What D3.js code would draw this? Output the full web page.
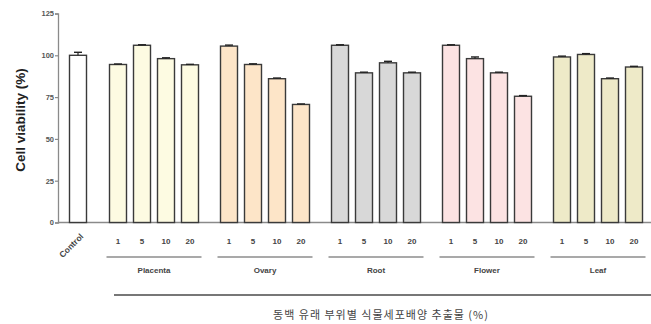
<!DOCTYPE html>
<html>
<head>
<meta charset="utf-8">
<script src="https://cdn.jsdelivr.net/npm/d3@7"></script>
<style>
  html, body { margin: 0; padding: 0; background: #fff; }
  svg { display: block; }
</style>
</head>
<body>
<svg id="chart" width="651" height="324"></svg>
<script>
// Cell viability data: control plus four concentrations for each plant part
const doses = ["1", "5", "10", "20"];
const parts = ["Placenta", "Ovary", "Root", "Flower", "Leaf"];
const controlValue = 100;
const controlError = 1.8;
const placentaValues = [94.5, 106, 98, 94.3];
const ovaryValues = [105.5, 94.5, 86, 70.6];
const rootValues = [106, 89.5, 95.5, 89.5];
const flowerValues = [106, 98, 89.5, 75.5];
const leafValues = [99, 100.5, 86, 93];
const placentaErrors = [0.3, 0.3, 0.5, 0.3];
const ovaryErrors = [0.6, 0.4, 0.4, 0.3];
const rootErrors = [0.3, 0.4, 0.9, 0.4];
const flowerErrors = [0.3, 1.0, 0.4, 0.4];
const leafErrors = [0.5, 0.5, 0.4, 0.4];
const partColors = ["#fdfbe2", "#fde5c8", "#d8d8d8", "#fce3e3", "#eeeac8"];
const yTicks = [0, 25, 50, 75, 100, 125];
const yLabel = "Cell viability (%)";
const xTitle = "동백 유래 부위별 식물세포배양 추출물 (%)";

const seriesValues = [placentaValues, ovaryValues, rootValues, flowerValues, leafValues];
const seriesErrors = [placentaErrors, ovaryErrors, rootErrors, flowerErrors, leafErrors];

const svg = d3.select("#chart");
const x0 = 58, baseY = 222.5, topY = 13.5;

const y = d3.scaleLinear().domain([0, 125]).range([baseY, topY]);

// Outer band: one slot per plant part, doses spread inside each slot
const outer = d3.scalePoint().domain(parts).range([154, 598]);
const inner = d3.scalePoint().domain(doses).range([-36, 36]);
const barW = 17;
const controlX = 78;

const axisColor = "#8a8a8a";
const font = "Liberation Sans, Arial, sans-serif";

// Y axis
const yAxis = d3.axisLeft(y).tickValues(yTicks).tickSize(3).tickPadding(1);
const gy = svg.append("g").attr("transform", `translate(${x0},0)`).call(yAxis);
gy.select(".domain").attr("stroke", axisColor).attr("stroke-width", 1.3);
gy.selectAll(".tick line").attr("stroke", axisColor).attr("stroke-width", 1.2);
gy.selectAll(".tick text")
  .attr("font-family", font)
  .attr("font-size", 7.5).attr("font-weight", "bold").attr("fill", "#555");

// baseline
svg.append("line").attr("x1", x0).attr("x2", 651).attr("y1", baseY).attr("y2", baseY)
  .attr("stroke", axisColor).attr("stroke-width", 1.3);

// y label
svg.append("text")
  .attr("transform", `translate(25,${(y(125) + baseY) / 2 + 2}) rotate(-90)`)
  .attr("text-anchor", "middle")
  .attr("font-family", font)
  .attr("font-size", 13.5).attr("font-weight", "bold").attr("fill", "#222")
  .text(yLabel);

function drawBar(cx, v, err, fill) {
  svg.append("rect")
    .attr("x", cx - barW / 2).attr("y", y(v))
    .attr("width", barW).attr("height", baseY - y(v))
    .attr("fill", fill).attr("stroke", "#3a3a3a").attr("stroke-width", 1.4);
  // upper error bar
  svg.append("line").attr("x1", cx).attr("x2", cx).attr("y1", y(v)).attr("y2", y(v + err))
    .attr("stroke", "#222").attr("stroke-width", 1.2);
  svg.append("line").attr("x1", cx - 4).attr("x2", cx + 4).attr("y1", y(v + err)).attr("y2", y(v + err))
    .attr("stroke", "#222").attr("stroke-width", 1.4);
}

// Control bar
drawBar(controlX, controlValue, controlError, "#ffffff");
svg.append("text")
  .attr("transform", `translate(${controlX + 6},237) rotate(-45)`)
  .attr("text-anchor", "end")
  .attr("font-family", font)
  .attr("font-size", 8.5).attr("font-weight", "bold").attr("fill", "#444")
  .text("Control");

// Plant part groups
parts.forEach((p, i) => {
  const gx = outer(p);
  doses.forEach((d, j) => {
    const cx = gx + inner(d);
    drawBar(cx, seriesValues[i][j], seriesErrors[i][j], partColors[i]);
    svg.append("text")
      .attr("x", cx).attr("y", 244)
      .attr("text-anchor", "middle")
      .attr("font-family", font).attr("font-size", 8).attr("font-weight", "bold").attr("fill", "#444")
      .text(d);
  });
  svg.append("line")
    .attr("x1", gx + inner(doses[0]) - barW / 2 - 3)
    .attr("x2", gx + inner(doses[doses.length - 1]) + barW / 2 + 3)
    .attr("y1", 257).attr("y2", 257)
    .attr("stroke", "#555").attr("stroke-width", 1.2);
  svg.append("text")
    .attr("x", gx).attr("y", 273)
    .attr("text-anchor", "middle")
    .attr("font-family", font).attr("font-size", 8).attr("font-weight", "bold").attr("fill", "#444")
    .text(p);
});

// Bracket under all extract groups
svg.append("line").attr("x1", 114).attr("x2", 651).attr("y1", 295).attr("y2", 295)
  .attr("stroke", "#777").attr("stroke-width", 2);
svg.append("text")
  .attr("x", 381).attr("y", 319)
  .attr("text-anchor", "middle")
  .attr("font-family", "Noto Sans CJK KR, sans-serif")
  .attr("font-size", 11).attr("letter-spacing", 1).attr("fill", "#444")
  .text(xTitle);
</script>
</body>
</html>
